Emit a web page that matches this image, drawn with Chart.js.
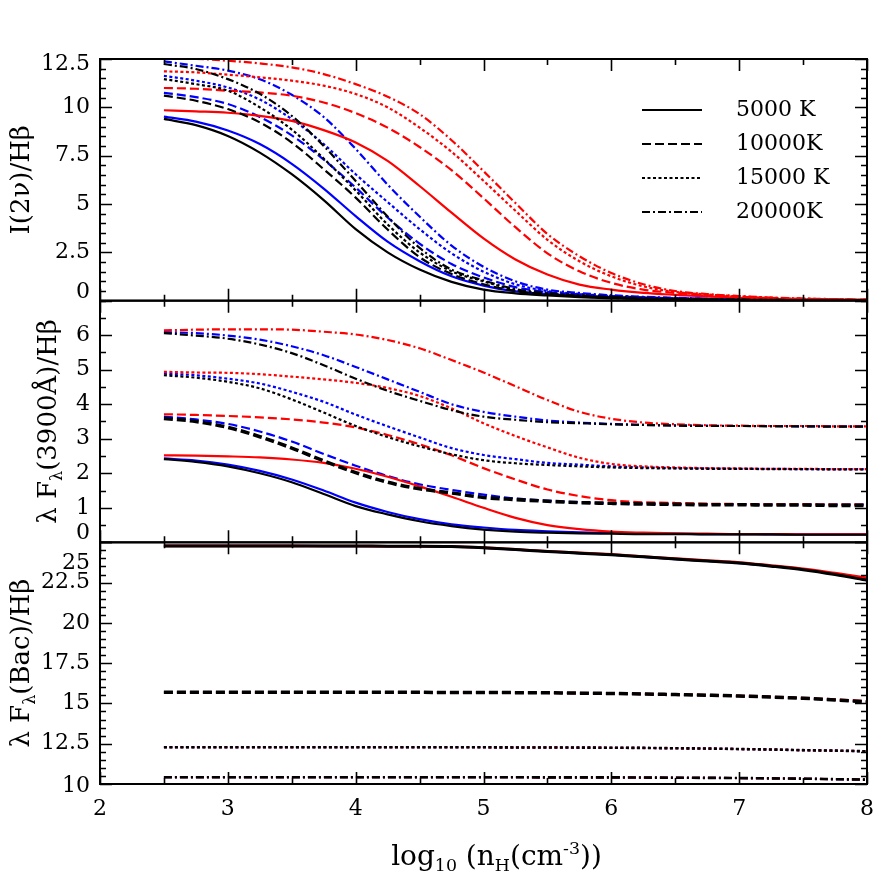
<!DOCTYPE html>
<html>
<head>
<meta charset="utf-8">
<script src="https://cdn.jsdelivr.net/npm/chart.js@4.4.0/dist/chart.umd.min.js"></script>
<style>
  html, body { margin: 0; padding: 0; background: #fff; }
</style>
</head>
<body>
<canvas id="chart" width="886" height="886"></canvas>
<script>
// log10 n_H grid shared by every curve
const nH = [2.5, 2.75, 3, 3.25, 3.5, 3.75, 4, 4.25, 4.5, 4.75, 5, 5.25, 5.5, 5.75, 6, 6.25, 6.5, 6.75, 7, 7.25, 7.5, 7.75, 8];
const temps = ['5000 K', '10000K', '15000 K', '20000K'];

// tick labels of the three panels
const twoNuTicks = [0, 2.5, 5, 7.5, 10, 12.5];
const f3900Ticks = [0, 1, 2, 3, 4, 5, 6];
const bacTicks = [10, 12.5, 15, 17.5, 20, 22.5, 25];

// I(2nu)/Hbeta, one row per temperature (5000, 10000, 15000, 20000 K)
const twoNuBlack = [
  [9.40, 9.08, 8.52, 7.66, 6.54, 5.20, 3.70, 2.50, 1.61, 0.97, 0.57, 0.38, 0.27, 0.18, 0.12, 0.09, 0.07, 0.05, 0.04, 0.03, 0.02, 0.02, 0.01],
  [10.61, 10.34, 9.91, 9.22, 8.18, 6.80, 5.33, 3.68, 2.25, 1.38, 0.85, 0.50, 0.33, 0.22, 0.15, 0.10, 0.07, 0.05, 0.04, 0.03, 0.02, 0.02, 0.01],
  [11.46, 11.20, 10.86, 10.00, 8.85, 7.35, 5.70, 3.94, 2.50, 1.52, 1.00, 0.55, 0.37, 0.25, 0.18, 0.12, 0.09, 0.06, 0.05, 0.04, 0.03, 0.02, 0.01],
  [12.24, 11.98, 11.46, 10.70, 9.56, 8.00, 6.19, 4.35, 2.73, 1.61, 1.05, 0.60, 0.40, 0.28, 0.20, 0.14, 0.10, 0.07, 0.05, 0.04, 0.03, 0.02, 0.02]
];
const twoNuBlue = [
  [9.52, 9.26, 8.80, 8.10, 7.08, 5.80, 4.37, 3.05, 2.04, 1.26, 0.78, 0.48, 0.34, 0.25, 0.18, 0.13, 0.10, 0.07, 0.05, 0.04, 0.03, 0.02, 0.02],
  [10.75, 10.53, 10.17, 9.50, 8.55, 7.30, 5.85, 4.30, 2.95, 1.90, 1.20, 0.70, 0.45, 0.33, 0.24, 0.17, 0.12, 0.09, 0.07, 0.05, 0.04, 0.03, 0.02],
  [11.63, 11.38, 11.03, 10.40, 9.39, 8.10, 6.54, 5.10, 3.70, 2.45, 1.50, 0.85, 0.50, 0.35, 0.25, 0.18, 0.13, 0.10, 0.07, 0.05, 0.04, 0.03, 0.02],
  [12.38, 12.15, 11.90, 11.45, 10.65, 9.50, 7.85, 6.00, 4.35, 2.85, 1.75, 1.00, 0.57, 0.40, 0.28, 0.20, 0.15, 0.11, 0.08, 0.06, 0.04, 0.03, 0.02]
];
const twoNuRed = [
  [9.85, 9.79, 9.72, 9.56, 9.30, 8.82, 8.18, 7.23, 5.93, 4.55, 3.22, 2.13, 1.35, 0.83, 0.57, 0.40, 0.30, 0.22, 0.15, 0.10, 0.07, 0.05, 0.03],
  [11.00, 10.96, 10.86, 10.77, 10.60, 10.25, 9.70, 8.95, 7.95, 6.75, 5.30, 3.80, 2.45, 1.52, 0.92, 0.57, 0.40, 0.28, 0.20, 0.14, 0.10, 0.07, 0.05],
  [11.86, 11.81, 11.69, 11.55, 11.38, 11.12, 10.69, 10.00, 8.95, 7.70, 6.20, 4.65, 3.15, 2.04, 1.26, 0.74, 0.45, 0.32, 0.22, 0.15, 0.10, 0.07, 0.05],
  [12.50, 12.50, 12.41, 12.27, 12.07, 11.72, 11.20, 10.55, 9.65, 8.30, 6.70, 5.05, 3.45, 2.30, 1.43, 0.85, 0.50, 0.34, 0.24, 0.16, 0.11, 0.08, 0.05]
];

// lambda F_lambda(3900A)/Hbeta
const f3900Black = [
  [2.41, 2.33, 2.20, 2.00, 1.74, 1.40, 1.05, 0.81, 0.61, 0.47, 0.37, 0.31, 0.28, 0.26, 0.25, 0.24, 0.24, 0.23, 0.23, 0.23, 0.22, 0.22, 0.22],
  [3.59, 3.50, 3.33, 3.06, 2.73, 2.36, 2.02, 1.74, 1.55, 1.43, 1.30, 1.24, 1.19, 1.15, 1.13, 1.11, 1.10, 1.09, 1.09, 1.08, 1.08, 1.07, 1.07],
  [4.84, 4.77, 4.65, 4.46, 4.14, 3.76, 3.37, 3.05, 2.78, 2.55, 2.38, 2.29, 2.24, 2.20, 2.17, 2.15, 2.14, 2.13, 2.13, 2.12, 2.12, 2.11, 2.11],
  [6.06, 5.99, 5.90, 5.73, 5.48, 5.13, 4.74, 4.39, 4.10, 3.83, 3.64, 3.55, 3.48, 3.45, 3.42, 3.40, 3.38, 3.37, 3.37, 3.36, 3.36, 3.35, 3.35]
];
const f3900Blue = [
  [2.43, 2.37, 2.25, 2.07, 1.82, 1.50, 1.15, 0.88, 0.67, 0.52, 0.43, 0.36, 0.32, 0.29, 0.27, 0.26, 0.25, 0.24, 0.24, 0.23, 0.23, 0.23, 0.23],
  [3.64, 3.56, 3.43, 3.21, 2.92, 2.56, 2.22, 1.92, 1.68, 1.52, 1.38, 1.27, 1.21, 1.16, 1.13, 1.12, 1.11, 1.10, 1.10, 1.09, 1.09, 1.09, 1.09],
  [4.89, 4.84, 4.74, 4.60, 4.36, 4.07, 3.70, 3.36, 3.04, 2.73, 2.53, 2.41, 2.30, 2.25, 2.20, 2.17, 2.15, 2.14, 2.13, 2.13, 2.12, 2.12, 2.12],
  [6.09, 6.06, 5.99, 5.87, 5.68, 5.42, 5.08, 4.72, 4.36, 4.00, 3.78, 3.64, 3.53, 3.47, 3.43, 3.40, 3.39, 3.38, 3.37, 3.37, 3.36, 3.36, 3.36]
];
const f3900Red = [
  [2.52, 2.51, 2.49, 2.46, 2.40, 2.30, 2.13, 1.90, 1.62, 1.32, 1.00, 0.71, 0.50, 0.38, 0.31, 0.28, 0.26, 0.25, 0.24, 0.24, 0.23, 0.23, 0.23],
  [3.71, 3.69, 3.66, 3.62, 3.56, 3.47, 3.33, 3.11, 2.84, 2.52, 2.15, 1.82, 1.53, 1.34, 1.22, 1.16, 1.14, 1.12, 1.11, 1.10, 1.10, 1.09, 1.09],
  [4.94, 4.92, 4.91, 4.87, 4.80, 4.72, 4.62, 4.47, 4.24, 3.88, 3.45, 3.08, 2.75, 2.45, 2.27, 2.20, 2.17, 2.15, 2.14, 2.13, 2.13, 2.12, 2.12],
  [6.14, 6.16, 6.17, 6.17, 6.16, 6.10, 6.02, 5.86, 5.62, 5.28, 4.92, 4.52, 4.12, 3.78, 3.58, 3.47, 3.42, 3.39, 3.38, 3.37, 3.37, 3.36, 3.36]
];

// lambda F_lambda(Bac)/Hbeta
const bacBlack = [
  [24.78, 24.78, 24.78, 24.78, 24.78, 24.77, 24.77, 24.76, 24.76, 24.74, 24.66, 24.55, 24.43, 24.33, 24.23, 24.10, 23.96, 23.84, 23.71, 23.52, 23.30, 23.00, 22.64],
  [15.69, 15.69, 15.69, 15.69, 15.69, 15.69, 15.69, 15.69, 15.69, 15.68, 15.68, 15.67, 15.66, 15.64, 15.62, 15.59, 15.55, 15.51, 15.46, 15.40, 15.32, 15.22, 15.10],
  [12.28, 12.28, 12.28, 12.28, 12.28, 12.28, 12.28, 12.28, 12.28, 12.28, 12.28, 12.27, 12.27, 12.26, 12.25, 12.24, 12.22, 12.20, 12.17, 12.14, 12.10, 12.07, 12.03],
  [10.42, 10.42, 10.42, 10.42, 10.42, 10.42, 10.42, 10.42, 10.42, 10.42, 10.42, 10.42, 10.41, 10.41, 10.41, 10.40, 10.39, 10.38, 10.37, 10.35, 10.33, 10.30, 10.27]
];
const bacBlue = [
  [24.78, 24.78, 24.78, 24.78, 24.78, 24.77, 24.77, 24.76, 24.76, 24.74, 24.66, 24.55, 24.43, 24.33, 24.23, 24.10, 23.96, 23.84, 23.71, 23.53, 23.32, 23.03, 22.70],
  [15.69, 15.69, 15.69, 15.69, 15.69, 15.69, 15.69, 15.69, 15.69, 15.68, 15.68, 15.67, 15.66, 15.64, 15.62, 15.59, 15.55, 15.51, 15.46, 15.40, 15.32, 15.22, 15.11],
  [12.28, 12.28, 12.28, 12.28, 12.28, 12.28, 12.28, 12.28, 12.28, 12.28, 12.28, 12.27, 12.27, 12.26, 12.25, 12.24, 12.22, 12.20, 12.17, 12.14, 12.10, 12.07, 12.03],
  [10.42, 10.42, 10.42, 10.42, 10.42, 10.42, 10.42, 10.42, 10.42, 10.42, 10.42, 10.42, 10.41, 10.41, 10.41, 10.40, 10.39, 10.38, 10.37, 10.35, 10.33, 10.30, 10.27]
];
const bacRed = [
  [24.78, 24.78, 24.78, 24.78, 24.78, 24.77, 24.77, 24.76, 24.76, 24.74, 24.67, 24.56, 24.45, 24.35, 24.25, 24.12, 23.99, 23.87, 23.75, 23.56, 23.36, 23.09, 22.80],
  [15.69, 15.69, 15.69, 15.69, 15.69, 15.69, 15.69, 15.69, 15.69, 15.68, 15.68, 15.67, 15.66, 15.64, 15.62, 15.59, 15.56, 15.52, 15.47, 15.41, 15.34, 15.24, 15.13],
  [12.28, 12.28, 12.28, 12.28, 12.28, 12.28, 12.28, 12.28, 12.28, 12.28, 12.28, 12.27, 12.27, 12.26, 12.25, 12.24, 12.22, 12.20, 12.17, 12.14, 12.10, 12.07, 12.04],
  [10.42, 10.42, 10.42, 10.42, 10.42, 10.42, 10.42, 10.42, 10.42, 10.42, 10.42, 10.42, 10.41, 10.41, 10.41, 10.40, 10.39, 10.38, 10.37, 10.35, 10.33, 10.30, 10.28]
];

const FONT = '"DejaVu Serif", "Liberation Serif", serif';
const dashes = [[], [9, 4], [3, 2.5], [8, 3, 2, 3]];

function series(rows, color, axis, widths) {
  return rows.map((vals, i) => ({
    label: temps[i],
    yAxisID: axis,
    data: vals.map((v, j) => ({ x: nH[j], y: v })),
    borderColor: color,
    borderWidth: widths[i],
    borderDash: dashes[i],
    pointRadius: 0,
    fill: false,
    cubicInterpolationMode: 'monotone'
  }));
}

// first in the list is drawn on top, so black goes first
const datasets = [
  ...series(bacBlack, '#000000', 'yBac', [3, 3.5, 2.6, 2.6]),
  ...series(f3900Black, '#000000', 'y3900', [2.2, 3.6, 2.2, 2.2]),
  ...series(twoNuBlack, '#000000', 'y2nu', [2.2, 2.2, 2.2, 2.2]),
  ...series(bacRed, '#ff0000', 'yBac', [2.6, 2.6, 2.2, 2.2]),
  ...series(f3900Red, '#ff0000', 'y3900', [2.2, 2.2, 2.2, 2.2]),
  ...series(twoNuRed, '#ff0000', 'y2nu', [2.2, 2.2, 2.2, 2.2]),
  ...series(bacBlue, '#0000ff', 'yBac', [2.2, 2.2, 2.2, 2.2]),
  ...series(f3900Blue, '#0000ff', 'y3900', [2.2, 2.2, 2.2, 2.2]),
  ...series(twoNuBlue, '#0000ff', 'y2nu', [2.2, 2.2, 2.2, 2.2])
];

const panels = [
  { id: 'y2nu', labels: twoNuTicks, shiftTop: 5, shiftBottom: -8, titleX: 20,
    title: [{ t: 'I(2ν)/Hβ' }] },
  { id: 'y3900', labels: f3900Ticks, shiftTop: 0, shiftBottom: -9, titleX: 47,
    title: [{ t: 'λ F' }, { t: 'λ', sub: true }, { t: '(3900Å)/Hβ' }] },
  { id: 'yBac', labels: bacTicks, shiftTop: 21, shiftBottom: 2, titleX: 20,
    title: [{ t: 'λ F' }, { t: 'λ', sub: true }, { t: '(Bac)/Hβ' }] }
];
const xTitle = [{ t: 'log' }, { t: '10', sub: true }, { t: ' (n' }, { t: 'H', sub: true }, { t: '(cm' }, { t: '-3', sup: true }, { t: '))' }];

function drawRich(ctx, parts, cx, cy, size, rotate) {
  ctx.save();
  ctx.translate(cx, cy);
  if (rotate) ctx.rotate(-Math.PI / 2);
  const segs = parts.map(p => {
    const s = (p.sub || p.sup) ? size * 0.62 : size;
    ctx.font = s + 'px ' + FONT;
    return Object.assign({ s: s, w: ctx.measureText(p.t).width }, p);
  });
  let x = -segs.reduce((a, g) => a + g.w, 0) / 2;
  ctx.textAlign = 'left';
  ctx.textBaseline = 'alphabetic';
  ctx.fillStyle = '#000';
  segs.forEach(g => {
    ctx.font = g.s + 'px ' + FONT;
    const dy = g.sub ? size * 0.2 : g.sup ? -size * 0.38 : 0;
    ctx.fillText(g.t, x, size * 0.36 + dy);
    x += g.w;
  });
  ctx.restore();
}

const frames = {
  id: 'frames',
  afterDraw(chart) {
    const ctx = chart.ctx;
    const area = chart.chartArea;
    const xs = chart.scales.x;
    ctx.save();
    ctx.setLineDash([]);
    ctx.lineCap = 'butt';
    ctx.strokeStyle = '#000000';
    panels.forEach(p => {
      const s = chart.scales[p.id];
      ctx.lineWidth = 2;
      ctx.strokeRect(area.left, s.top, area.right - area.left, s.bottom - s.top);

      // inward tick marks on all four sides
      const marks = new Path2D();
      for (let v = 2; v <= 8.001; v += 0.5) {
        const len = Math.abs(v - Math.round(v)) < 1e-6 ? 12 : 6;
        const px = Math.round(xs.getPixelForValue(v)) + 0.5;
        marks.moveTo(px, s.bottom); marks.lineTo(px, s.bottom - len);
        marks.moveTo(px, s.top); marks.lineTo(px, s.top + len);
      }
      for (let v = s.min; v <= s.max + 1e-6; v += 0.5) {
        const len = p.labels.includes(v) ? 12 : 6;
        const py = Math.round(s.getPixelForValue(v)) + 0.5;
        marks.moveTo(area.left, py); marks.lineTo(area.left + len, py);
        marks.moveTo(area.right, py); marks.lineTo(area.right - len, py);
      }
      ctx.lineWidth = 1.6;
      ctx.stroke(marks);

      ctx.fillStyle = '#000';
      ctx.font = '22px ' + FONT;
      ctx.textAlign = 'right';
      ctx.textBaseline = 'middle';
      p.labels.forEach(v => {
        let py = s.getPixelForValue(v);
        if (v === s.max) py += p.shiftTop;
        if (v === s.min) py += p.shiftBottom;
        ctx.fillText(String(v), area.left - 10, py);
      });
      drawRich(ctx, p.title, p.titleX, (s.top + s.bottom) / 2, 26, true);
    });

    drawRich(ctx, xTitle, (area.left + area.right) / 2 + 13, 855, 28, false);

    // legend inside the top panel
    const top = chart.scales.y2nu.top;
    ctx.font = '22px ' + FONT;
    ctx.textAlign = 'left';
    ctx.textBaseline = 'middle';
    temps.forEach((t, i) => {
      const y = top + 51 + i * 34;
      ctx.lineWidth = 2.2;
      ctx.setLineDash(dashes[i]);
      ctx.beginPath();
      ctx.moveTo(area.left + 542, y);
      ctx.lineTo(area.left + 602, y);
      ctx.stroke();
      ctx.setLineDash([]);
      ctx.fillText(t, area.left + 636, y);
    });
    ctx.restore();
  }
};

function yAxis(min, max, labels) {
  return {
    type: 'linear', position: 'left', stack: 'panels', min: min, max: max,
    grid: { display: false, drawTicks: false },
    border: { display: false },
    ticks: { display: false },
    afterBuildTicks: s => { s.ticks = labels.map(v => ({ value: v })); },
    afterFit: s => { s.width = 100; }
  };
}

new Chart(document.getElementById('chart'), {
  type: 'line',
  data: { datasets: datasets },
  options: {
    responsive: false,
    animation: false,
    devicePixelRatio: 1,
    layout: { padding: { top: 59, right: 14, left: 0, bottom: 0 } },
    plugins: { legend: { display: false }, tooltip: { enabled: false } },
    scales: {
      x: {
        type: 'linear', min: 2, max: 8, position: 'bottom',
        grid: { display: false, drawTicks: false },
        border: { display: false },
        ticks: { stepSize: 1, color: '#000', font: { family: FONT, size: 22 }, padding: 12, maxRotation: 0 },
        afterFit: s => { s.height = 102; }
      },
      yBac: yAxis(10, 25, bacTicks),
      y3900: yAxis(0, 7, f3900Ticks),
      y2nu: yAxis(0, 12.5, twoNuTicks)
    }
  },
  plugins: [frames]
});
</script>
</body>
</html>
